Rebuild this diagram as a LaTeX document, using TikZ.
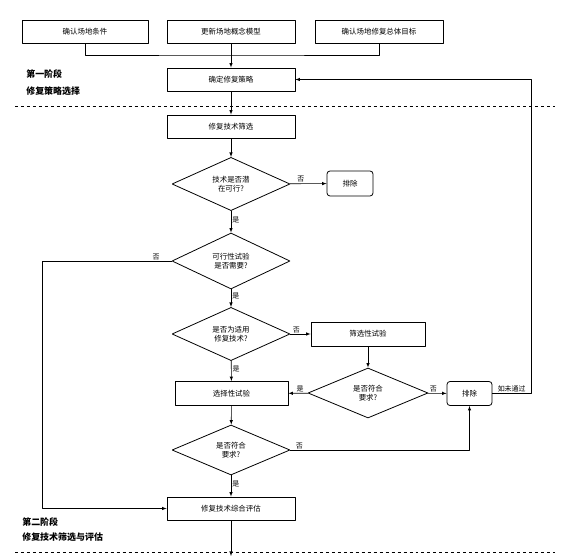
\documentclass[tikz,border=0pt]{standalone}
\usepackage{fontspec}
\setmainfont{Noto Sans CJK SC}
\usetikzlibrary{shapes.geometric}
\tikzset{
  stepbox/.style={draw,thick,minimum width=128bp,minimum height=23bp,inner sep=1pt,font=\fontsize{7.5}{9}\selectfont},
  choice/.style={draw,thick,shape=diamond,minimum width=118bp,minimum height=52bp,inner sep=0pt,align=center,font=\fontsize{7.5}{9}\selectfont},
  dropbox/.style={draw,thick,rounded corners=3bp,minimum width=46bp,minimum height=25bp,font=\fontsize{7.5}{9}\selectfont},
  yesno/.style={font=\fontsize{7}{8}\selectfont,inner sep=1pt},
  phase/.style={anchor=west,font=\fontsize{9}{10}\selectfont\bfseries,inner sep=0pt},
}
\begin{document}
\begin{tikzpicture}[>=latex,line join=bevel,line width=0.6pt]
\useasboundingbox (0bp,0bp) rectangle (563bp,558bp);
%%
\node (node_cond) at (85.0bp,526.5bp) [stepbox,minimum width=126bp] {确认场地条件};
  \node (node_model) at (231.0bp,526.5bp) [stepbox] {更新场地概念模型};
  \node (node_goal) at (379.0bp,526.5bp) [stepbox] {确认场地修复总体目标};
  \node (node_strat) at (231.0bp,478.5bp) [stepbox] {确定修复策略};
  \node (node_screen) at (231.0bp,431.5bp) [stepbox] {修复技术筛选};
  \node (node_q1) at (231.0bp,374.0bp) [choice] {技术是否潜\\在可行?};
  \node (node_out1) at (350.0bp,374.5bp) [dropbox] {排除};
  \node (node_q2) at (231.0bp,297.0bp) [choice,minimum height=56bp] {可行性试验\\是否需要?};
  \node (node_q3) at (231.0bp,224.0bp) [choice,minimum height=50bp] {是否为适用\\修复技术?};
  \node (node_sieve) at (368.0bp,224.0bp) [stepbox,minimum width=114bp,minimum height=24bp] {筛选性试验};
  \node (node_q4) at (368.0bp,165.0bp) [choice,minimum width=120bp,minimum height=50bp] {是否符合\\要求?};
  \node (node_pick) at (231.5bp,164.5bp) [stepbox,minimum width=113bp,minimum height=24bp] {选择性试验};
  \node (node_out2) at (469.5bp,164.5bp) [dropbox,minimum width=45bp,minimum height=24bp] {排除};
  \node (node_q5) at (231.0bp,108.0bp) [choice,minimum height=50bp] {是否符合\\要求?};
  \node (node_eval) at (231.0bp,49.5bp) [stepbox] {修复技术综合评估};
  \coordinate (end_0) at (231.0bp,2.0bp);
  \node at (26.0bp,484.0bp) [phase] {第一阶段};
  \node at (26.0bp,467.0bp) [phase] {修复策略选择};
  \node at (22.0bp,36.0bp) [phase] {第二阶段};
  \node at (22.0bp,21.0bp) [phase] {修复技术筛选与评估};
  \draw [dashed,line width=0.5pt] (15.0bp,452.0bp) -- (555.0bp,452.0bp);
  \draw [dashed,line width=0.5pt] (15.0bp,6.0bp) -- (555.0bp,6.0bp);
  \draw [black] (node_cond.south) |- (231.0bp,503.0bp) -| (node_goal.south);
  \draw [black,->] (node_model) -- (node_strat);
  \draw [black,->] (node_strat) -- (node_screen);
  \draw [black,->] (node_screen) -- (node_q1);
  \draw [black,->] (node_q1) -- node [yesno,above,pos=0.3] {否} (node_out1);
  \draw [black,->] (node_q1) -- node [yesno,right,pos=0.4] {是} (node_q2);
  \draw [black,->] (node_q2.west) -- node [yesno,above,pos=0.12] {否} (42.0bp,297.0bp) |- (node_eval.west);
  \draw [black,->] (node_q2) -- node [yesno,right,pos=0.4] {是} (node_q3);
  \draw [black,->] (node_q3) -- node [yesno,above,pos=0.3] {否} (node_sieve);
  \draw [black,->] (node_q3) -- node [yesno,right,pos=0.4] {是} (node_pick);
  \draw [black,->] (node_sieve) -- (node_q4);
  \draw [black,->] (node_q4) -- node [yesno,above,pos=0.4] {是} (node_pick);
  \draw [black,->] (node_q4) -- node [yesno,above,pos=0.3] {否} (node_out2);
  \draw [black,->] (node_out2.east) -- node [yesno,above,pos=0.5] {如未通过} (531.0bp,164.5bp) |- (node_strat.east);
  \draw [black,->] (node_pick) -- (node_q5);
  \draw [black,->] (node_q5.east) -- node [yesno,above,pos=0.05] {否} (469.5bp,108.0bp) -- (node_out2.south);
  \draw [black,->] (node_q5) -- node [yesno,right,pos=0.4] {是} (node_eval);
  \draw [black,->] (node_eval) -- (end_0);
%
\end{tikzpicture}
\end{document}
